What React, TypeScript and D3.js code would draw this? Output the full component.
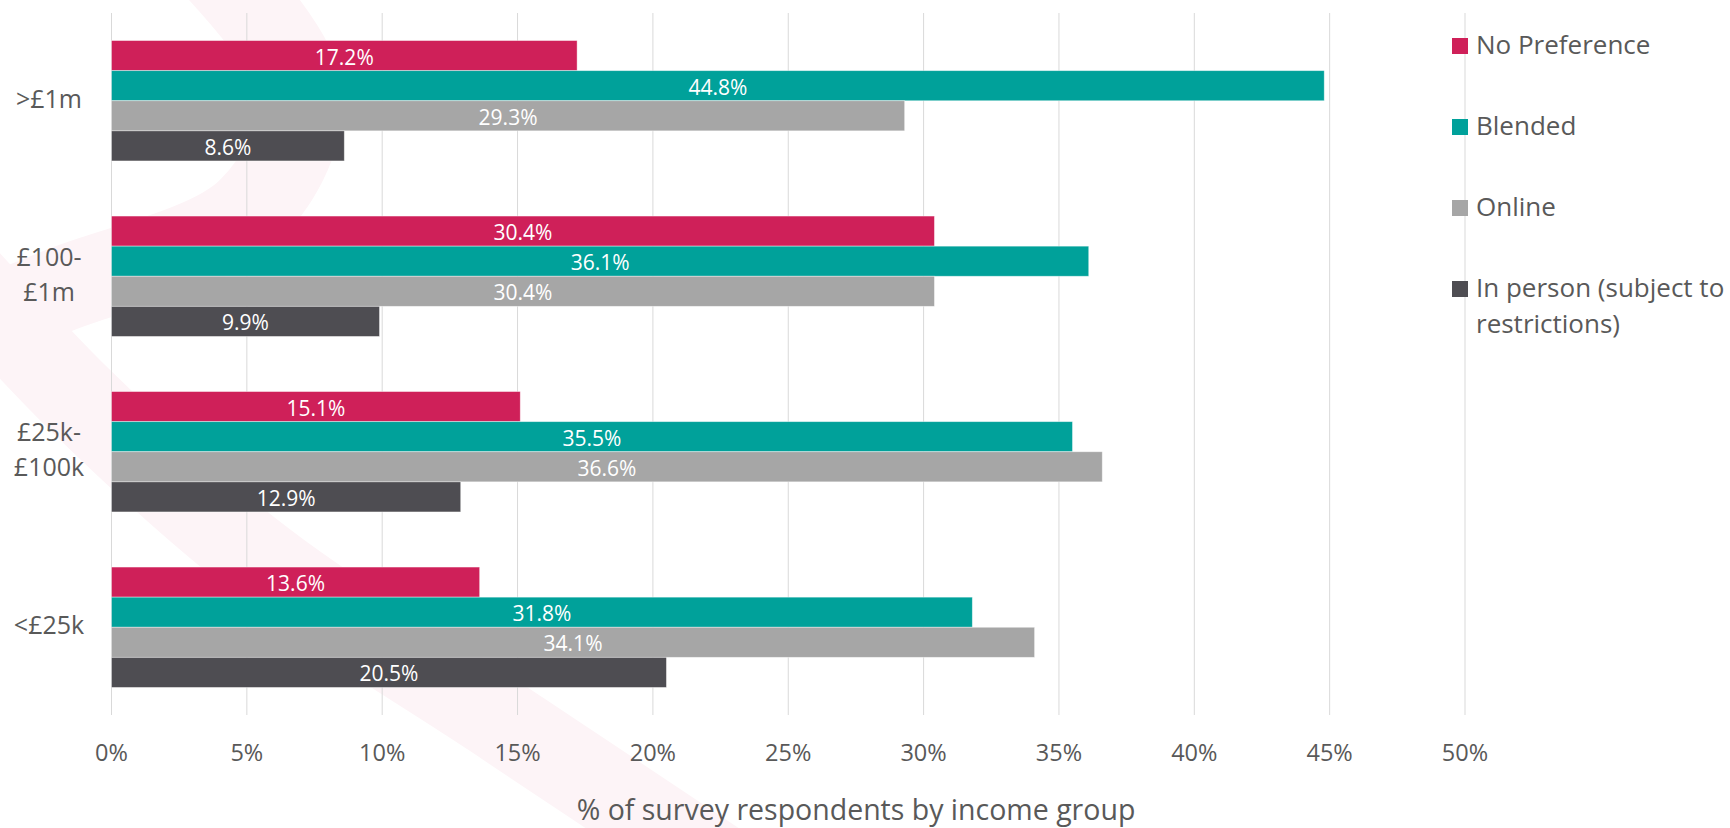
import React from 'react';
import * as d3 from 'd3';

const categories = ['>£1m', '£100-£1m', '£25k-£100k', '<£25k'];
const categoryLines = [['>£1m'], ['£100-', '£1m'], ['£25k-', '£100k'], ['<£25k']];
const seriesNames = ['No Preference', 'Blended', 'Online', 'In person (subject to restrictions)'];
const legendLines = [['No Preference'], ['Blended'], ['Online'], ['In person (subject to', 'restrictions)']];
const noPreference = [17.2, 30.4, 15.1, 13.6];
const blended = [44.8, 36.1, 35.5, 31.8];
const online = [29.3, 30.4, 36.6, 34.1];
const inPerson = [8.6, 9.9, 12.9, 20.5];
const xTicks = [0, 5, 10, 15, 20, 25, 30, 35, 40, 45, 50];
const axisTitle = '% of survey respondents by income group';
const colors = ['#CF2059', '#00A19A', '#A6A6A6', '#4E4D52'];

const W = 1730;
const H = 828;
const FONT = "'Open Sans', sans-serif";
const TEXT = '#595959';

export default function App() {
  const series = [noPreference, blended, online, inPerson];
  const x = d3.scaleLinear().domain([0, 50]).range([111.5, 1465]);
  const y = d3.scaleBand<string>().domain(categories).range([13, 715]).paddingInner(0.314).paddingOuter(0.157);
  const ys = d3.scaleBand<string>().domain(seriesNames).range([0, y.bandwidth()]);

  const swoosh = d3.line<[number, number]>().curve(d3.curveCatmullRom)([
    [190, -60], [300, 90], [250, 210], [60, 290], [-40, 330],
  ]);
  const swoosh2 = d3.line<[number, number]>().curve(d3.curveCatmullRom)([
    [-60, 250], [80, 400], [260, 560], [500, 720], [740, 880],
  ]);

  return (
    <svg width={W} height={H} style={{ position: 'absolute', left: 0, top: 0, background: '#fff' }} fontFamily={FONT}>
      <path d={swoosh || ''} fill="none" stroke="#FDF4F7" strokeWidth={85} />
      <path d={swoosh2 || ''} fill="none" stroke="#FDF4F7" strokeWidth={85} />
      {xTicks.map((t) => (
        <line key={'g' + t} x1={x(t)} x2={x(t)} y1={13} y2={715} stroke="#D9D9D9" strokeWidth={1} />
      ))}
      {categories.map((c, ci) => (
        <g key={c} transform={`translate(0,${y(c)})`}>
          {series.map((s, si) => {
            const v = s[ci];
            const by = ys(seriesNames[si]) as number;
            return (
              <g key={si}>
                <rect x={x(0)} y={by} width={x(v) - x(0)} height={ys.bandwidth()} fill={colors[si]} stroke="#ffffff" strokeOpacity={0.5} strokeWidth={0.8} />
                <text x={(x(0) + x(v)) / 2} y={by + ys.bandwidth() / 2 + 1} textAnchor="middle" dominantBaseline="central" fill="#fff" fontSize={21}>
                  {v.toFixed(1)}%
                </text>
              </g>
            );
          })}
        </g>
      ))}
      {categories.map((c, ci) => {
        const lines = categoryLines[ci];
        const cy = (y(c) as number) + y.bandwidth() / 2;
        const lh = 35;
        return (
          <text key={'c' + c} fill={TEXT} fontSize={25} textAnchor="middle">
            {lines.map((l, li) => (
              <tspan key={li} x={49} y={cy + 7 + (li - (lines.length - 1) / 2) * lh}>{l}</tspan>
            ))}
          </text>
        );
      })}
      {xTicks.map((t) => (
        <text key={'t' + t} x={x(t)} y={760.5} textAnchor="middle" fill={TEXT} fontSize={23.5}>
          {t}%
        </text>
      ))}
      <text x={856} y={820} textAnchor="middle" fill={TEXT} fontSize={28.5}>{axisTitle}</text>
      {seriesNames.map((s, si) => {
        const base = 54 + si * 81;
        return (
          <g key={'l' + s}>
            <rect x={1452} y={base - 16} width={16} height={16} fill={colors[si]} />
            <text fill={TEXT} fontSize={26}>
              {legendLines[si].map((l, li) => (
                <tspan key={li} x={1476} y={base + li * 36}>{l}</tspan>
              ))}
            </text>
          </g>
        );
      })}
    </svg>
  );
}
